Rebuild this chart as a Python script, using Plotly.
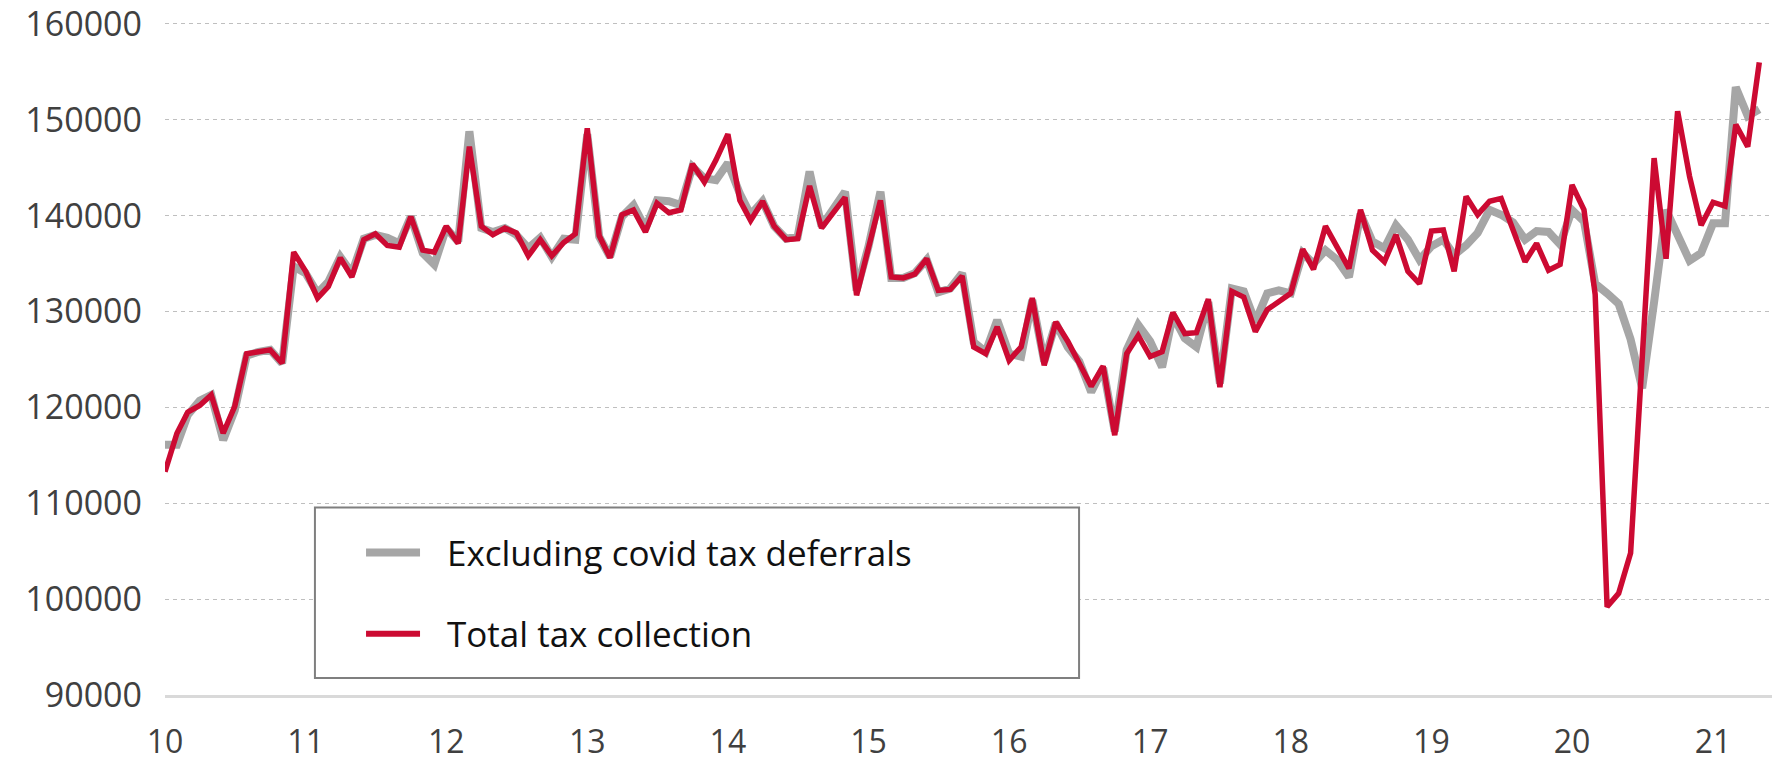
import pandas as pd
import plotly.graph_objects as go

# Monthly observations, Jan 2010 .. May 2021
months = pd.date_range("2010-01-01", periods=137, freq="MS")

total_tax = [
    113300, 117300, 119500, 120200, 121300, 117300, 120100, 125600, 125800, 126000, 124600, 136200,
    134200, 131400, 132600, 135600, 133600, 137500, 138100, 136900, 136700, 139900, 136400, 136200,
    138900, 137100, 147200, 138900, 138000, 138700, 138200, 135800, 137500, 135800, 137200, 138100,
    149100, 137900, 135600, 140100, 140600, 138300, 141300, 140300, 140600, 145400, 143500, 145800,
    148500, 141600, 139500, 141500, 138900, 137500, 137600, 143100, 138700, 140300, 141900, 131700,
    136800, 141600, 133600, 133500, 133900, 135500, 132200, 132300, 133700, 126300, 125600, 128400,
    124900, 126300, 131400, 124400, 128900, 126900, 124600, 122200, 124300, 117100, 125600, 127500,
    125300, 125800, 129900, 127700, 127800, 131300, 122100, 132100, 131500, 127900, 130200, 131000,
    131900, 136500, 134400, 138900, 136800, 134500, 140600, 136400, 135200, 138000, 134200, 132900,
    138400, 138500, 134200, 142000, 140100, 141500, 141800, 138500, 135200, 137100, 134300, 134900,
    143200, 140600, 131800, 99200, 100600, 104800, 125000, 146000, 135500, 150900, 144100, 139000,
    141400, 141000, 149500, 147200, 156000,
]

excl_deferrals = [
    116100, 116100, 119200, 120700, 121300, 116600, 119700, 125400, 125800, 126000, 124600, 134700,
    134000, 131900, 133100, 135700, 134000, 137600, 138000, 137700, 137100, 139900, 136100, 134900,
    138700, 137300, 148800, 138700, 138300, 138700, 138000, 136600, 137700, 135700, 137600, 137500,
    148500, 137800, 135700, 139900, 141100, 138700, 141600, 141500, 141100, 145100, 143900, 143700,
    145500, 142300, 140100, 141500, 138900, 137600, 137800, 144600, 138900, 140600, 142500, 132200,
    136800, 142500, 133500, 133500, 134000, 135400, 132000, 132400, 134000, 126800, 125800, 129100,
    125600, 125300, 131200, 124800, 128800, 126300, 124800, 121600, 124100, 117500, 126000, 128600,
    126900, 124200, 129600, 127200, 126300, 131000, 122500, 132400, 132100, 128900, 131900, 132200,
    131900, 136100, 135000, 136400, 135400, 133600, 140200, 137300, 136600, 139000, 137500, 135400,
    136800, 137500, 135900, 136900, 138200, 140600, 140100, 139300, 137500, 138400, 138300, 137000,
    140600, 139400, 132900, 131900, 130800, 127100, 122000, 131000, 140600, 138000, 135300, 136100,
    139200, 139200, 153400, 150400, 151100,
]

y_ticks = [90000, 100000, 110000, 120000, 130000, 140000, 150000, 160000]
series_names = ["Excluding covid tax deferrals", "Total tax collection"]

GREY = "#a6a6a6"
RED = "#cc0a32"
FONT = "Open Sans, Noto Sans, sans-serif"

fig = go.Figure()
fig.add_trace(go.Scatter(x=months, y=excl_deferrals, mode="lines", name=series_names[0],
                         line=dict(color=GREY, width=8), showlegend=False, hoverinfo="skip"))
fig.add_trace(go.Scatter(x=months, y=total_tax, mode="lines", name=series_names[1],
                         line=dict(color=RED, width=5.5), showlegend=False, hoverinfo="skip"))

# Legend box (drawn manually to match the framed legend of the original)
fig.add_shape(type="rect", xref="paper", yref="paper", x0=0.0933, x1=0.5688, y0=0.0253, y1=0.2787,
              line=dict(color="#7f7f7f", width=2), fillcolor="white", layer="above")
fig.add_shape(type="line", xref="paper", yref="paper", x0=0.1251, x1=0.1587, y0=0.2116, y1=0.2116,
              line=dict(color=GREY, width=8), layer="above")
fig.add_shape(type="line", xref="paper", yref="paper", x0=0.1251, x1=0.1587, y0=0.0909, y1=0.0909,
              line=dict(color=RED, width=6), layer="above")
for name, yy in zip(series_names, [0.2116, 0.0909]):
    fig.add_annotation(x=0.1742, y=yy, xref="paper", yref="paper", text=name, showarrow=False,
                       xanchor="left", yanchor="middle", font=dict(family=FONT, size=35, color="#111111"))

fig.update_layout(
    width=1781, height=762,
    margin=dict(l=165, r=9, t=22, b=67, autoexpand=False),
    paper_bgcolor="white", plot_bgcolor="white",
    showlegend=False,
    font=dict(family=FONT, color="#404040"),
)
fig.update_xaxes(
    range=["2010-01-01", "2021-06-03"],
    tickformat="%y", dtick="M12", tick0="2010-01-01",
    showgrid=False, zeroline=False, automargin=False,
    showline=True, linecolor="#d9d9d9", linewidth=3,
    ticks="", ticklabelstandoff=17, ticklabeloverflow="allow",
    tickfont=dict(family=FONT, size=32, color="#404040"),
)
fig.update_yaxes(
    range=[90000, 160200], tickvals=y_ticks, ticktext=[str(v) for v in y_ticks],
    showgrid=True, gridcolor="#bfbfbf", gridwidth=1.3, griddash="4px,4px",
    zeroline=False, showline=False, ticks="", ticklabelstandoff=22, automargin=False,
    ticklabeloverflow="allow",
    tickfont=dict(family=FONT, size=34, color="#404040"),
)

fig.write_html("out.html")
